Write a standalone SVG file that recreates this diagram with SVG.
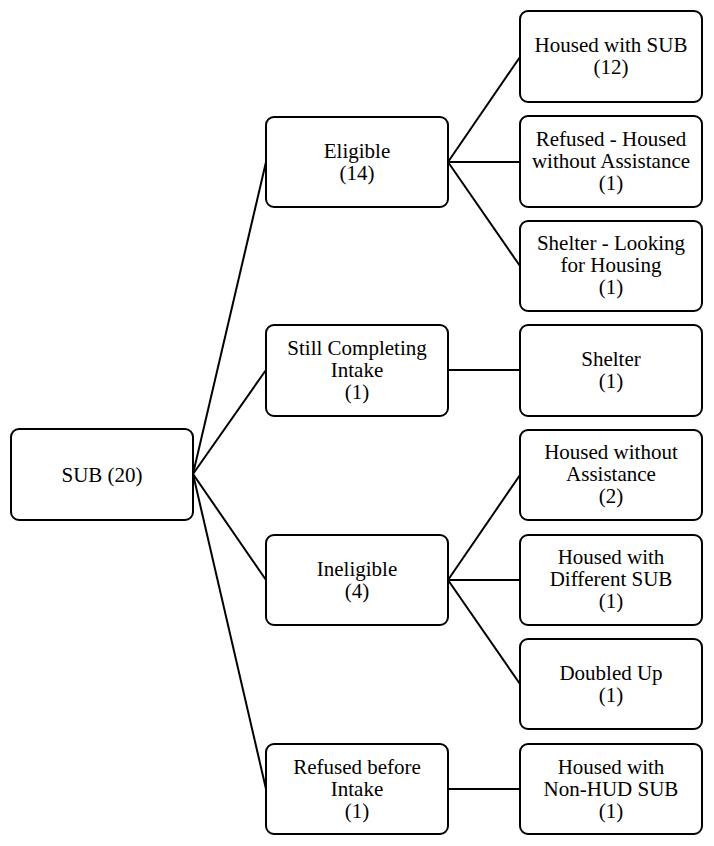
<svg xmlns="http://www.w3.org/2000/svg" width="714" height="846" viewBox="0 0 714 846">
<style>
.box{fill:#fff;stroke:#000;stroke-width:2}
.t{font-size:21px;fill:#000;text-anchor:middle}
.c{stroke:#000;stroke-width:2;fill:none}
</style>
<rect width="714" height="846" fill="#fff"/>
<g id="connectors">
<line class="c" x1="193" y1="474" x2="266" y2="162"/>
<line class="c" x1="193" y1="474" x2="266" y2="370"/>
<line class="c" x1="193" y1="474" x2="266" y2="580"/>
<line class="c" x1="193" y1="474" x2="266" y2="789"/>
<line class="c" x1="448" y1="162" x2="520" y2="57"/>
<line class="c" x1="448" y1="162" x2="520" y2="162"/>
<line class="c" x1="448" y1="162" x2="520" y2="266"/>
<line class="c" x1="448" y1="370" x2="520" y2="370"/>
<line class="c" x1="448" y1="580" x2="520" y2="475"/>
<line class="c" x1="448" y1="580" x2="520" y2="580"/>
<line class="c" x1="448" y1="580" x2="520" y2="684"/>
<line class="c" x1="448" y1="789" x2="520" y2="789"/>
</g>
<g font-family="Liberation Serif, Times New Roman, serif">
<g id="root"><rect class="box" x="11" y="429" width="182" height="91" rx="8"/><text class="t" x="102" y="482">SUB (20)</text></g>
<g id="eligible"><rect class="box" x="266" y="117" width="182" height="90" rx="8"/><text class="t" x="357" y="158">Eligible</text><text class="t" x="357" y="180">(14)</text></g>
<g id="still"><rect class="box" x="266" y="325" width="182" height="91" rx="8"/><text class="t" x="357" y="355">Still Completing</text><text class="t" x="357" y="377">Intake</text><text class="t" x="357" y="399">(1)</text></g>
<g id="ineligible"><rect class="box" x="266" y="535" width="182" height="90" rx="8"/><text class="t" x="357" y="576">Ineligible</text><text class="t" x="357" y="598">(4)</text></g>
<g id="refusedBefore"><rect class="box" x="266" y="744" width="182" height="90" rx="8"/><text class="t" x="357" y="774">Refused before</text><text class="t" x="357" y="796">Intake</text><text class="t" x="357" y="818">(1)</text></g>
<g id="housedSub"><rect class="box" x="520" y="11" width="182" height="91" rx="8"/><text class="t" x="611" y="52">Housed with SUB</text><text class="t" x="611" y="74">(12)</text></g>
<g id="refusedHoused"><rect class="box" x="520" y="116" width="182" height="91" rx="8"/><text class="t" x="611" y="146">Refused - Housed</text><text class="t" x="611" y="168">without Assistance</text><text class="t" x="611" y="190">(1)</text></g>
<g id="shelterLooking"><rect class="box" x="520" y="221" width="182" height="90" rx="8"/><text class="t" x="611" y="250">Shelter - Looking</text><text class="t" x="611" y="272">for Housing</text><text class="t" x="611" y="294">(1)</text></g>
<g id="shelter"><rect class="box" x="520" y="325" width="182" height="91" rx="8"/><text class="t" x="611" y="366">Shelter</text><text class="t" x="611" y="388">(1)</text></g>
<g id="housedWithout"><rect class="box" x="520" y="430" width="182" height="90" rx="8"/><text class="t" x="611" y="459">Housed without</text><text class="t" x="611" y="481">Assistance</text><text class="t" x="611" y="503">(2)</text></g>
<g id="housedDifferent"><rect class="box" x="520" y="535" width="182" height="90" rx="8"/><text class="t" x="611" y="564">Housed with</text><text class="t" x="611" y="586">Different SUB</text><text class="t" x="611" y="608">(1)</text></g>
<g id="doubledUp"><rect class="box" x="520" y="639" width="182" height="90" rx="8"/><text class="t" x="611" y="680">Doubled Up</text><text class="t" x="611" y="702">(1)</text></g>
<g id="housedNonHud"><rect class="box" x="520" y="744" width="182" height="90" rx="8"/><text class="t" x="611" y="774">Housed with</text><text class="t" x="611" y="796">Non-HUD SUB</text><text class="t" x="611" y="818">(1)</text></g>
</g>
</svg>
